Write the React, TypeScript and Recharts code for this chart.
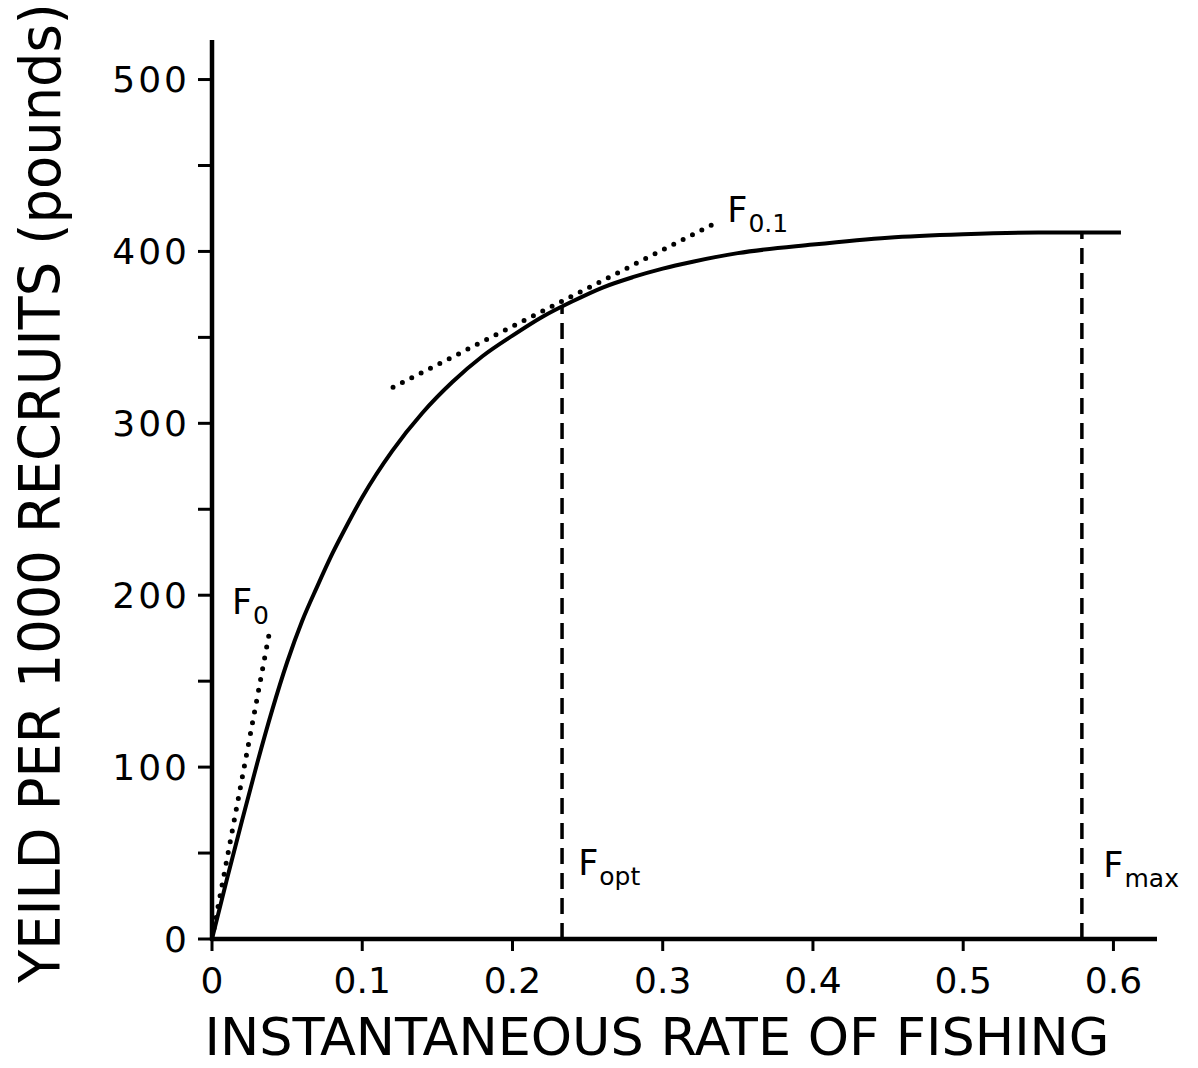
import { LineChart, Line, XAxis, YAxis, ReferenceLine, ReferenceDot, Label } from 'recharts';

// Yield-per-recruit curve: instantaneous fishing rate F vs yield (lb per 1000 recruits)
const rateF = [0, 0.01, 0.02, 0.03, 0.04, 0.05, 0.06, 0.07, 0.08, 0.09, 0.1, 0.12, 0.14, 0.16, 0.18, 0.2, 0.22, 0.24, 0.26, 0.28, 0.3, 0.32, 0.35, 0.4, 0.45, 0.5, 0.55, 0.6, 0.605];
const yieldLb = [0, 35, 69, 102, 133, 161, 185, 205, 224, 241, 257, 284, 306, 324, 339, 351, 362, 371, 379, 385, 390, 394, 399, 404, 408, 410, 411, 411, 411];

// tangent at the origin (F0) and the one-tenth slope tangent (F0.1)
const f0Rate = [0, 0.039];
const f0Yield = [0, 182];
const f01Rate = [0.1205, 0.334];
const f01Yield = [321, 416];

// reference rates
const fOpt = 0.233;
const fOptYield = 368;
const fMax = 0.579;
const fMaxYield = 411;

const xTicks = [0, 0.1, 0.2, 0.3, 0.4, 0.5, 0.6];
const yTicks = [0, 50, 100, 150, 200, 250, 300, 350, 400, 450, 500];

const toPoints = (xs: number[], ys: number[]) => xs.map((f, i) => ({ f, y: ys[i] }));

const curve = toPoints(rateF, yieldLb);
const f0Line = toPoints(f0Rate, f0Yield);
const f01Line = toPoints(f01Rate, f01Yield);

const FONT = "'DejaVu Sans', sans-serif";
const TITLE_FONT = "'Liberation Sans Narrow', 'DejaVu Sans Condensed', 'DejaVu Sans', sans-serif";

// "F" with a subscript, anchored at the baseline-left of the F
const subLabel = (sub: string) => (props: any) => {
    const { x, y } = props.viewBox;
    return (
        <text x={x} y={y} fontFamily={FONT} fontSize={35} fill="#000">
            <tspan>F</tspan>
            <tspan dx={1} dy={10} fontSize={25}>{sub}</tspan>
        </text>
    );
};

export default function App() {
    return (
        <div style={{ background: '#fff' }}>
            <LineChart width={1190} height={1060} margin={{ top: 32, right: 41, bottom: 69, left: 94 }}>
                <XAxis
                    dataKey="f"
                    type="number"
                    domain={[0, 0.629]}
                    ticks={xTicks}
                    interval={0}
                    height={60}
                    tickFormatter={(v: number) => (v === 0 ? '0' : v.toFixed(1))}
                    axisLine={{ stroke: '#000', strokeWidth: 4.5 }}
                    tickLine={{ stroke: '#000', strokeWidth: 3 }}
                    tickSize={12}
                    tickMargin={16}
                    tick={{ fill: '#000', fontSize: 36, fontFamily: FONT }}
                >
                    <Label
                        content={() => (
                            <text x={649} y={1047} textAnchor="middle" textLength={905} lengthAdjust="spacingAndGlyphs" fontFamily={TITLE_FONT} fontSize={52} fill="#000">
                                INSTANTANEOUS RATE OF FISHING
                            </text>
                        )}
                    />
                </XAxis>
                <YAxis
                    type="number"
                    domain={[0, 523]}
                    ticks={yTicks}
                    interval={0}
                    width={110}
                    tickFormatter={(v: number) => (v % 100 === 0 ? String(v) : '')}
                    axisLine={{ stroke: '#000', strokeWidth: 4.5 }}
                    tickLine={{ stroke: '#000', strokeWidth: 3 }}
                    tickSize={14}
                    tickMargin={8}
                    tick={{ fill: '#000', fontSize: 36, fontFamily: FONT, letterSpacing: 3 }}
                >
                    <Label
                        content={() => (
                            <text x={52} y={485} transform="rotate(-90, 52, 485)" textAnchor="middle" textLength={980} lengthAdjust="spacingAndGlyphs" fontFamily={TITLE_FONT} fontSize={57} fill="#000">
                                YEILD PER 1000 RECRUITS (pounds)
                            </text>
                        )}
                    />
                </YAxis>

                <ReferenceLine segment={[{ x: fOpt, y: 0 }, { x: fOpt, y: fOptYield }]} stroke="#000" strokeWidth={3.5} strokeDasharray="16 9" />
                <ReferenceLine segment={[{ x: fMax, y: 0 }, { x: fMax, y: fMaxYield }]} stroke="#000" strokeWidth={3.5} strokeDasharray="16 9" />

                <Line data={f0Line} dataKey="y" stroke="#000" strokeWidth={5} strokeDasharray="0 11" strokeLinecap="round" dot={false} activeDot={false} isAnimationActive={false} />
                <Line data={f01Line} dataKey="y" stroke="#000" strokeWidth={5} strokeDasharray="0 10.5" strokeLinecap="round" dot={false} activeDot={false} isAnimationActive={false} />
                <Line data={curve} dataKey="y" type="monotone" stroke="#000" strokeWidth={4} dot={false} activeDot={false} isAnimationActive={false} />

                <ReferenceDot x={0.0133} y={189} r={0} fill="none" stroke="none" label={subLabel('0')} />
                <ReferenceDot x={0.343} y={417} r={0} fill="none" stroke="none" label={subLabel('0.1')} />
                <ReferenceDot x={0.2437} y={37} r={0} fill="none" stroke="none" label={subLabel('opt')} />
                <ReferenceDot x={0.5933} y={36} r={0} fill="none" stroke="none" label={subLabel('max')} />
            </LineChart>
        </div>
    );
}
